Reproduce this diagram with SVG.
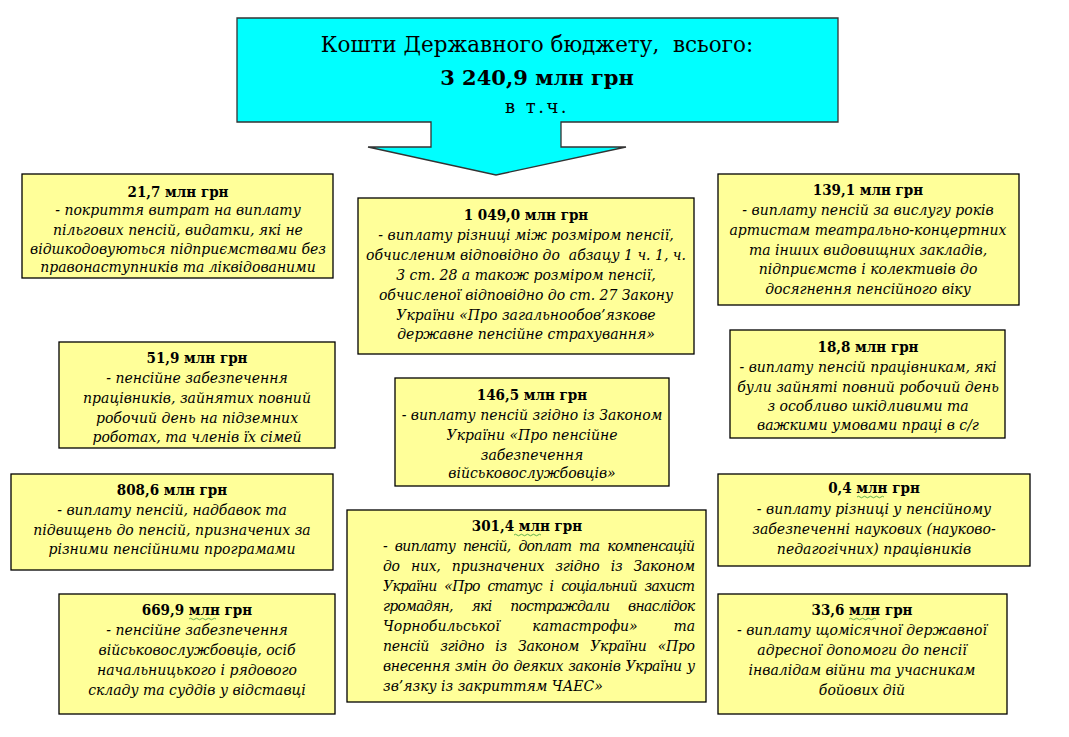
<svg xmlns="http://www.w3.org/2000/svg" width="1069" height="737" viewBox="0 0 1069 737">
<style>
.bx{fill:#FFFF99;stroke:#000;stroke-width:1.3}
.t{font-family:"DejaVu Serif Condensed","DejaVu Serif",serif;font-stretch:condensed;font-size:15px;font-weight:bold;text-anchor:middle;fill:#000}
.i{font-family:"DejaVu Serif",serif;font-size:14px;font-style:italic;text-anchor:middle;fill:#000}
.j{font-family:"DejaVu Serif",serif;font-size:14px;font-style:italic;fill:#000}
.h{font-family:"DejaVu Serif",serif;fill:#000;text-anchor:middle}
.sq{fill:none;stroke:#3a9a3a;stroke-width:0.8}
</style>
<rect width="1069" height="737" fill="#fff"/>
<g id="top">
<path d="M237,18 H838 V122 H561 V147 H626 L496,175 L368,147 H431 V122 H237 Z" fill="#00FFFF" stroke="#333" stroke-width="1.3"/>
<text class="h" x="537" y="52" font-size="21.5" xml:space="preserve">Кошти Державного бюджету,  всього:</text>
<text class="h" x="537" y="85" font-size="21" font-weight="bold">3 240,9 млн грн</text>
<text class="h" x="537" y="113" font-size="18" letter-spacing="2.5">в т.ч.</text>
</g>
<g id="connectors"></g>
<g id="n1">
<rect class="bx" x="22" y="174" width="311" height="104"/>
<text class="t" x="178" y="197">21,7 млн грн</text>
<text class="i" x="178" y="215">- покриття витрат на виплату</text>
<text class="i" x="178" y="235">пільгових пенсій, видатки, які не</text>
<text class="i" x="178" y="254">відшкодовуються підприємствами без</text>
<text class="i" x="178" y="272">правонаступників та ліквідованими</text>
</g>
<g id="n2">
<rect class="bx" x="358" y="198" width="336" height="156"/>
<text class="t" x="526" y="220">1 049,0 млн грн</text>
<text class="i" x="526" y="240">- виплату різниці між розміром пенсії,</text>
<text class="i" x="526" y="260" xml:space="preserve">обчисленим відповідно до  абзацу 1 ч. 1, ч.</text>
<text class="i" x="526" y="280">3 ст. 28 а також розміром пенсії,</text>
<text class="i" x="526" y="300">обчисленої відповідно до ст. 27 Закону</text>
<text class="i" x="526" y="320">України «Про загальнообов’язкове</text>
<text class="i" x="526" y="339">державне пенсійне страхування»</text>
</g>
<g id="n3">
<rect class="bx" x="718" y="174" width="301" height="131"/>
<text class="t" x="868" y="195">139,1 млн грн</text>
<text class="i" x="868" y="215">- виплату пенсій за вислугу років</text>
<text class="i" x="868" y="235">артистам театрально-концертних</text>
<text class="i" x="868" y="255">та інших видовищних закладів,</text>
<text class="i" x="868" y="274">підприємств і колективів до</text>
<text class="i" x="868" y="294">досягнення пенсійного віку</text>
</g>
<g id="n4">
<rect class="bx" x="59" y="342" width="276" height="106"/>
<text class="t" x="197" y="363">51,9 млн грн</text>
<text class="i" x="197" y="383">- пенсійне забезпечення</text>
<text class="i" x="197" y="403">працівників, зайнятих повний</text>
<text class="i" x="197" y="423">робочий день на підземних</text>
<text class="i" x="197" y="442">роботах, та членів їх сімей</text>
</g>
<g id="n5">
<rect class="bx" x="395" y="378" width="274" height="108"/>
<text class="t" x="532" y="400">146,5 млн грн</text>
<text class="i" x="532" y="420">- виплату пенсій згідно із Законом</text>
<text class="i" x="532" y="440">України «Про пенсійне</text>
<text class="i" x="532" y="460">забезпечення</text>
<text class="i" x="532" y="478">військовослужбовців»</text>
</g>
<g id="n6">
<rect class="bx" x="730" y="330" width="275" height="108"/>
<text class="t" x="868" y="352">18,8 млн грн</text>
<text class="i" x="868" y="372">- виплату пенсій працівникам, які</text>
<text class="i" x="868" y="392">були зайняті повний робочий день</text>
<text class="i" x="868" y="411">з особливо шкідливими та</text>
<text class="i" x="868" y="430">важкими умовами праці в с/г</text>
</g>
<g id="n7">
<rect class="bx" x="11" y="474" width="322" height="96"/>
<text class="t" x="172" y="495">808,6 млн грн</text>
<text class="i" x="172" y="515">- виплату пенсій, надбавок та</text>
<text class="i" x="172" y="535">підвищень до пенсій, призначених за</text>
<text class="i" x="172" y="554">різними пенсійними програмами</text>
</g>
<g id="n8">
<rect class="bx" x="347" y="510" width="359" height="192"/>
<text class="t" x="527" y="531">301,4 млн грн</text>
<path class="sq" d="M514,535 q1.5,-1.5 3,0 t3,0 t3,0 t3,0 t3,0 t3,0 t3,0 t3,0 t3,0"/>
<text class="j" x="383" y="551" word-spacing="4" textLength="312" lengthAdjust="spacing">- виплату пенсій, доплат та компенсацій</text>
<text class="j" x="383" y="571" word-spacing="7" textLength="312" lengthAdjust="spacing">до них, призначених згідно із Законом</text>
<text class="j" x="383" y="591" word-spacing="4" textLength="312" lengthAdjust="spacing">України «Про статус і соціальний захист</text>
<text class="j" x="383" y="611" word-spacing="15" textLength="312" lengthAdjust="spacing">громадян, які постраждали внаслідок</text>
<text class="j" x="383" y="631" font-size="15">Чорнобильської</text>
<text class="j" x="585" y="631" font-size="15" text-anchor="middle">катастрофи»</text>
<text class="j" x="695" y="631" font-size="15" text-anchor="end">та</text>
<text class="j" x="383" y="651" word-spacing="7" textLength="312" lengthAdjust="spacing">пенсій згідно із Законом України «Про</text>
<text class="j" x="383" y="671" word-spacing="1" textLength="312" lengthAdjust="spacing">внесення змін до деяких законів України у</text>
<text class="j" x="383" y="691">зв’язку із закриттям ЧАЕС»</text>
</g>
<g id="n9">
<rect class="bx" x="718" y="474" width="312" height="92"/>
<text class="t" x="874" y="493">0,4 млн грн</text>
<path class="sq" d="M857,497 q1.5,-1.5 3,0 t3,0 t3,0 t3,0 t3,0 t3,0 t3,0 t3,0 t3,0"/>
<text class="i" x="874" y="514">- виплату різниці у пенсійному</text>
<text class="i" x="874" y="534">забезпеченні наукових (науково-</text>
<text class="i" x="874" y="554">педагогічних) працівників</text>
</g>
<g id="n10">
<rect class="bx" x="59" y="594" width="276" height="120"/>
<text class="t" x="197" y="615">669,9 млн грн</text>
<path class="sq" d="M189,619 q1.5,-1.5 3,0 t3,0 t3,0 t3,0 t3,0 t3,0 t3,0 t3,0 t3,0"/>
<text class="i" x="197" y="635">- пенсійне забезпечення</text>
<text class="i" x="197" y="655">військовослужбовців, осіб</text>
<text class="i" x="197" y="675">начальницького і рядового</text>
<text class="i" x="197" y="695">складу та суддів у відставці</text>
</g>
<g id="n11">
<rect class="bx" x="718" y="594" width="289" height="120"/>
<text class="t" x="862" y="615">33,6 млн грн</text>
<path class="sq" d="M849,619 q1.5,-1.5 3,0 t3,0 t3,0 t3,0 t3,0 t3,0 t3,0 t3,0 t3,0"/>
<text class="i" x="862" y="635">- виплату щомісячної державної</text>
<text class="i" x="862" y="655">адресної допомоги до пенсії</text>
<text class="i" x="862" y="675">інвалідам війни та учасникам</text>
<text class="i" x="862" y="695">бойових дій</text>
</g>
</svg>
